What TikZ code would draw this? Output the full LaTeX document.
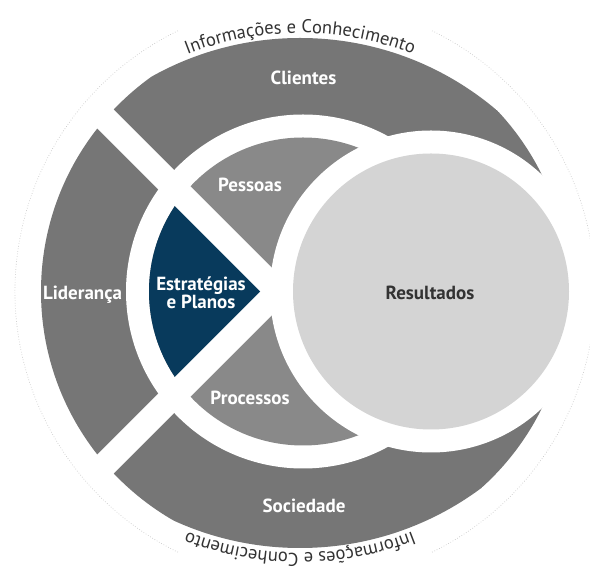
\documentclass[tikz,border=0pt]{standalone}
\usepackage{fontspec}
\setmainfont{PT Sans}
\usetikzlibrary{decorations.text,calc}
\definecolor{ringdark}{HTML}{767676}
\definecolor{ringmid}{HTML}{898989}
\definecolor{resgrey}{HTML}{D4D4D4}
\definecolor{stratblue}{RGB}{8,58,92}
\definecolor{txtdark}{HTML}{333333}
\definecolor{dotgrey}{HTML}{BBBBBB}
\newcommand\arcfnt{\fontsize{18.5}{18.5}\selectfont\color{txtdark}}
\begin{document}
\begin{tikzpicture}[x=1pt,y=1pt,
  lbl/.style={font=\bfseries\fontsize{19}{18}\selectfont, text=white, inner sep=0pt, align=center},
  band/.style={white, line width=25pt},
  dotring/.style={dotgrey, dotted, line width=0.6pt}]
\useasboundingbox (0,0) rectangle (590,570);
\fill[white] (0,0) rectangle (590,570);
% named centres
\coordinate (ringc) at (303,278.5);
\coordinate (outc) at (305,278.5);
\coordinate (resc) at (431,278.5);
\coordinate (cross) at (278,278.5);
\coordinate (dotc) at (305,278.5);
\coordinate (topc) at (300,228);
\coordinate (botc) at (300,326);
% faint dotted outer ring (interrupted by the texts)
\draw[dotring] (dotc) ++(116:290) arc[start angle=116, end angle=244, radius=290];
\draw[dotring] (dotc) ++(-64:290) arc[start angle=-64, end angle=64, radius=290];
% arc texts
\path[decorate, decoration={text along path, text align=center, text={|\arcfnt|Informações e Conhecimento}}]
  (topc) ++(115:309) arc[start angle=115, end angle=65, radius=309];
\path[decorate, decoration={text along path, text align=center, text={|\arcfnt|Informações e Conhecimento}}]
  (botc) ++(-65:309) arc[start angle=-65, end angle=-115, radius=309];
% outer ring, flattened where the texts run
\begin{scope}
  \clip (topc) circle[radius=304];
  \clip (botc) circle[radius=304];
  \fill[ringdark] (outc) circle[radius=264];
\end{scope}
\fill[white] (ringc) circle[radius=177];
% inner disc
\fill[ringmid] (ringc) circle[radius=154];
\begin{scope}
  \clip (ringc) circle[radius=154];
  \fill[stratblue] (cross) -- ++(-200,200) -- ++(0,-400) -- cycle;
\end{scope}
% white separating bands
\draw[band] ($(cross)+(12,-12)$) coordinate (ua) -- ($(cross)+(-182,182)$) coordinate (ub);
\draw[band] ($(cross)+(12,12)$) coordinate (la) -- ($(cross)+(-182,-182)$) coordinate (lb);
% results
\fill[white] (resc) circle[radius=161];
\fill[resgrey] (resc) circle[radius=138];
% labels
\node[lbl, anchor=base] (clientes) at (303.5,485) {Clientes};
\node[lbl, anchor=base] (lideranca) at (82.5,270) {Liderança};
\node[lbl, anchor=base] (pessoas) at (250,378) {Pessoas};
\node[lbl] (estrategias) at (201,277) {Estratégias\\e Planos};
\node[lbl, anchor=base] (processos) at (250,165) {Processos};
\node[lbl, anchor=base, text=txtdark] (resultados) at (430,270) {Resultados};
\node[lbl, anchor=base] (sociedade) at (304,57) {Sociedade};
\end{tikzpicture}
\end{document}
